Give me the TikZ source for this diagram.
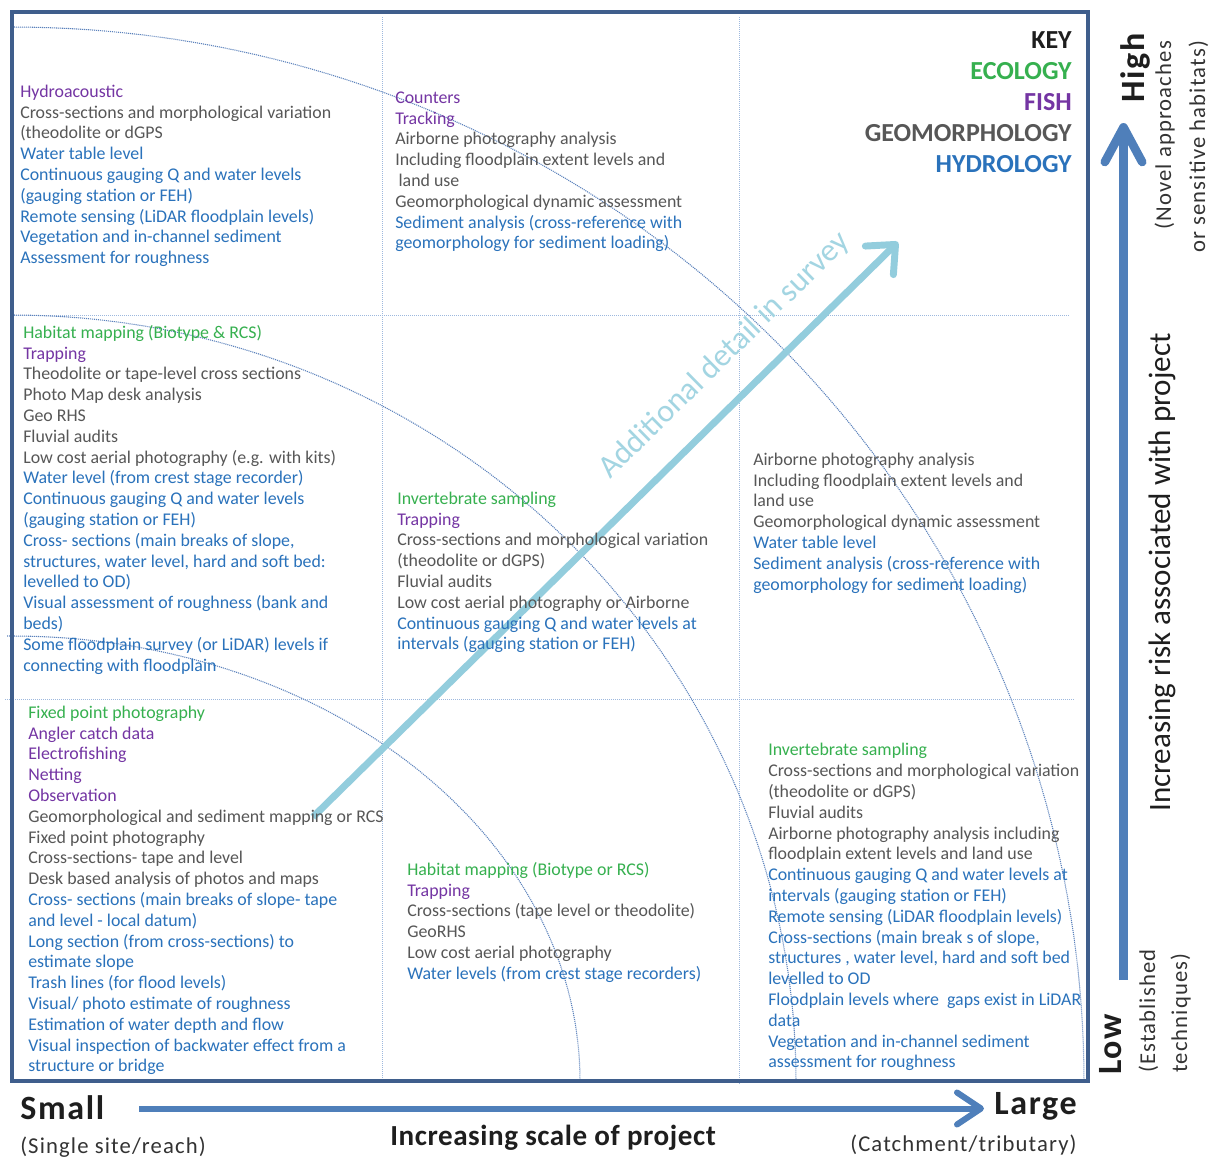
\documentclass[tikz,border=0pt]{standalone}
\usepackage{fontspec}
\setmainfont{Carlito}
\newfontfamily\spacedfont[LetterSpace=5]{Carlito}
\usetikzlibrary{arrows.meta}

\definecolor{ecol}{HTML}{36B04F}
\definecolor{fish}{HTML}{7435A3}
\definecolor{geom}{HTML}{575757}
\definecolor{hydr}{HTML}{2A72BB}
\definecolor{keyblack}{HTML}{1E1E1E}
\definecolor{frameblue}{HTML}{3F5E8C}
\definecolor{axisblue}{HTML}{4F7FBA}
\definecolor{detailteal}{HTML}{93CDDD}
\definecolor{detailtext}{HTML}{A3D5E2}
\definecolor{gridblue}{HTML}{9DB8DE}
\definecolor{arcblue}{HTML}{5B82BC}
\definecolor{subgray}{HTML}{333333}

% one coloured, strutted line per category
\newcommand{\lE}{\strut\color{ecol}}
\newcommand{\lF}{\strut\color{fish}}
\newcommand{\lG}{\strut\color{geom}}
\newcommand{\lH}{\strut\color{hydr}}

\begin{document}
\begin{tikzpicture}[x=0.75pt,y=-0.75pt,
  gridline/.style={draw=gridblue, line width=0.75pt, dash pattern=on 0.75pt off 0.75pt},
  arcline/.style={draw=arcblue, line width=0.8pt, dash pattern=on 0.8pt off 0.7pt},
  blk/.style={anchor=north west, align=left, inner sep=0pt,
    font=\fontsize{13.4}{15.6}\selectfont},
  keytxt/.style={anchor=north east, align=right, inner sep=0pt,
    font=\fontsize{19.5}{23.25}\selectfont\bfseries},
  axlbl/.style={inner sep=0pt, anchor=base west, text=keyblack,
    font=\spacedfont\fontsize{25.5}{30}\selectfont\bfseries},
  sublbl/.style={inner sep=0pt, anchor=base west, text=subgray,
    font=\spacedfont\fontsize{17}{20}\selectfont},
  axarrow/.style={draw=axisblue, line width=4.5pt,
    -{Straight Barb[round, length=18pt, width=24pt]}},
  riskarrow/.style={draw=axisblue, line width=6.5pt,
    -{Straight Barb[round, length=26pt, width=28pt]}},
  detailarrow/.style={draw=detailteal, line width=5.2pt,
    -{Straight Barb[round, length=17pt, width=30pt]}},
  frame/.style={draw=frameblue, line width=3pt}
]
\fill[white] (0,0) rectangle (1215,1158);
\useasboundingbox (0,0) rectangle (1215,1158);

% grid of the matrix
\draw[gridline] (382,17) -- (382,1081);
\draw[gridline] (739,17) -- (739,1085);
\draw[gridline] (12,315) -- (1070,315);
\draw[gridline] (5,699) -- (1075,699);

% quarter ellipses from the bottom-left corner
\draw[arcline] plot[domain=90:0, samples=90] ({12+1072*cos(\x)},{1081-1054*sin(\x)});
\draw[arcline] plot[domain=90:0, samples=90] ({12+784*cos(\x)},{1081-766*sin(\x)});
\draw[arcline] (7,636) -- (12,636) plot[domain=90:0, samples=90] ({12+568*cos(\x)},{1081-445*sin(\x)});

% diagonal arrow: additional detail in survey
\coordinate (dA) at (313,817);
\coordinate (dB) at (898,242);
\draw[detailarrow] (dA) -- (dB);
\node[inner sep=0pt, anchor=base west, rotate=44.5, text=detailtext,
  font=\fontsize{24}{28}\selectfont] (detail) at (610,480) {Additional detail in survey};

% key
\node[keytxt] (key) at (1072,26.6) {%
  \strut\color{keyblack}KEY\\
  \strut\color{ecol}ECOLOGY\\
  \strut\color{fish}FISH\\
  \strut\color{geom}GEOMORPHOLOGY\\
  \strut\color{hydr}HYDROLOGY};

% top row
\node[blk] (tl) at (20,82.4) {%
  \lF Hydroacoustic\\
  \lG Cross-sections and morphological variation\\
  \lG (theodolite or dGPS\\
  \lH Water table level\\
  \lH Continuous gauging Q and water levels\\
  \lH (gauging station or FEH)\\
  \lH Remote sensing (LiDAR floodplain levels)\\
  \lH Vegetation and in-channel sediment\\
  \lH Assessment for roughness};

\node[blk] (tm) at (395,88.4) {%
  \lF Counters\\
  \lF Tracking\\
  \lG Airborne photography analysis\\
  \lG Including floodplain extent levels and\\
  \lG \hspace{2.5pt}land use\\
  \lG Geomorphological dynamic assessment\\
  \lH Sediment analysis (cross-reference with\\
  \lH geomorphology for sediment loading)};

% middle row
\node[blk] (ml) at (23,323.5) {%
  \lE Habitat mapping (Biotype \& RCS)\\
  \lF Trapping\\
  \lG Theodolite or tape-level cross sections\\
  \lG Photo Map desk analysis\\
  \lG Geo RHS\\
  \lG Fluvial audits\\
  \lG Low cost aerial photography (e.g. with kits)\\
  \lH Water level (from crest stage recorder)\\
  \lH Continuous gauging Q and water levels\\
  \lH (gauging station or FEH)\\
  \lH Cross- sections (main breaks of slope,\\
  \lH structures, water level, hard and soft bed:\\
  \lH levelled to OD)\\
  \lH Visual assessment of roughness (bank and\\
  \lH beds)\\
  \lH Some floodplain survey (or LiDAR) levels if\\
  \lH connecting with floodplain};

\node[blk] (mm) at (397,489.5) {%
  \lE Invertebrate sampling\\
  \lF Trapping\\
  \lG Cross-sections and morphological variation\\
  \lG (theodolite or dGPS)\\
  \lG Fluvial audits\\
  \lG Low cost aerial photography or Airborne\\
  \lH Continuous gauging Q and water levels at\\
  \lH intervals (gauging station or FEH)};

\node[blk] (mr) at (753,450.5) {%
  \lG Airborne photography analysis\\
  \lG Including floodplain extent levels and\\
  \lG land use\\
  \lG Geomorphological dynamic assessment\\
  \lH Water table level\\
  \lH Sediment analysis (cross-reference with\\
  \lH geomorphology for sediment loading)};

% bottom row
\node[blk] (bl) at (28,703.5) {%
  \lE Fixed point photography\\
  \lF Angler catch data\\
  \lF Electrofishing\\
  \lF Netting\\
  \lF Observation\\
  \lG Geomorphological and sediment mapping or RCS\\
  \lG Fixed point photography\\
  \lG Cross-sections- tape and level\\
  \lG Desk based analysis of photos and maps\\
  \lH Cross- sections (main breaks of slope- tape\\
  \lH and level - local datum)\\
  \lH Long section (from cross-sections) to\\
  \lH estimate slope\\
  \lH Trash lines (for flood levels)\\
  \lH Visual/ photo estimate of roughness\\
  \lH Estimation of water depth and flow\\
  \lH Visual inspection of backwater effect from a\\
  \lH structure or bridge};

\node[blk] (bm) at (407,860.5) {%
  \lE Habitat mapping (Biotype or RCS)\\
  \lF Trapping\\
  \lG Cross-sections (tape level or theodolite)\\
  \lG GeoRHS\\
  \lG Low cost aerial photography\\
  \lH Water levels (from crest stage recorders)};

\node[blk] (br) at (768,741) {%
  \lE Invertebrate sampling\\
  \lG Cross-sections and morphological variation\\
  \lG (theodolite or dGPS)\\
  \lG Fluvial audits\\
  \lG Airborne photography analysis including\\
  \lG floodplain extent levels and land use\\
  \lH Continuous gauging Q and water levels at\\
  \lH intervals (gauging station or FEH)\\
  \lH Remote sensing (LiDAR floodplain levels)\\
  \lH Cross-sections (main break s of slope,\\
  \lH structures , water level, hard and soft bed\\
  \lH levelled to OD\\
  \lH Floodplain levels where \ gaps exist in LiDAR\\
  \lH data\\
  \lH Vegetation and in-channel sediment\\
  \lH assessment for roughness};

% outer frame
\draw[frame] (12,12) rectangle (1088,1081);

% horizontal axis: scale of project
\coordinate (hA) at (139,1108.5);
\coordinate (hB) at (984,1108.5);
\draw[axarrow] (hA) -- (hB);
\node[axlbl] (small) at (20,1119) {Small};
\node[axlbl] (large) at (994,1114) {Large};
\node[sublbl] (single) at (20,1153) {(Single site/reach)};
\node[sublbl] (catch) at (850,1151) {(Catchment/tributary)};
\node[inner sep=0pt, anchor=base west, text=keyblack,
  font=\spacedfont\addfontfeatures{LetterSpace=2}\fontsize{21.8}{26}\selectfont\bfseries]
  (scale) at (390,1145) {Increasing scale of project};

% vertical axis: risk associated with project
\coordinate (vA) at (1123.5,980);
\coordinate (vB) at (1123.5,123);
\draw[riskarrow] (vA) -- (vB);
\node[axlbl, rotate=90] (high) at (1144,103) {High};
\node[axlbl, rotate=90] (low) at (1121,1075) {Low};
\node[inner sep=0pt, anchor=base west, rotate=90, text=keyblack,
  font=\fontsize{23.3}{28}\selectfont] (risk) at (1170,812)
  {Increasing risk associated with project};
\node[sublbl, rotate=90] (novel1) at (1171,230) {(Novel approaches};
\node[sublbl, rotate=90] (novel2) at (1205,253) {or sensitive habitats)};
\node[sublbl, rotate=90] (estab1) at (1155,1073) {(Established};
\node[sublbl, rotate=90] (estab2) at (1187,1073) {techniques)};
\end{tikzpicture}
\end{document}
